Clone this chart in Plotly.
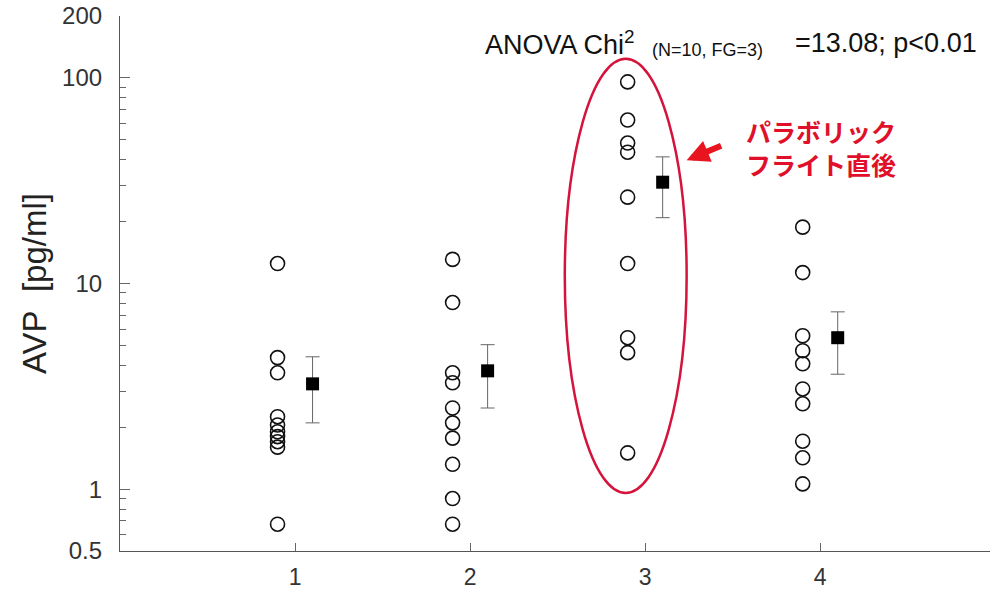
import plotly.graph_objects as go

# ---- data ----
groups = [1, 2, 3, 4]
g1_values = [12.5, 4.36, 3.68, 2.25, 2.05, 1.9, 1.8, 1.7, 1.6, 0.675]
g2_values = [13.1, 8.08, 3.68, 3.29, 2.48, 2.10, 1.77, 1.32, 0.90, 0.675]
g3_values = [95.6, 62.4, 48.2, 43.5, 26.3, 12.5, 5.45, 4.61, 1.50]
g4_values = [18.8, 11.3, 5.57, 4.71, 4.07, 3.07, 2.60, 1.71, 1.42, 1.06]
mean_values = [3.25, 3.76, 31.1, 5.45]
sem_values = [1.15, 1.28, 10.2, 1.83]
x_tick_labels = ["1", "2", "3", "4"]
y_tick_values = [0.5, 1, 10, 100, 200]
y_tick_labels = ["0.5", "1", "10", "100", "200"]

all_groups = [g1_values, g2_values, g3_values, g4_values]
circle_offset = -0.1
mean_offset = 0.1

FONT = "Liberation Sans, Arial, sans-serif"
JP_FONT = "Noto Sans CJK JP, sans-serif"

L, R, T, B = 120, 0, 16, 43
W, H = 990, 594
PW, PH = W - L - R, H - T - B


def px_x(p):
    return (p - L) / PW


def px_y(p):
    return (H - B - p) / PH


fig = go.Figure()

cx, cy = [], []
for g, vals in zip(groups, all_groups):
    cx += [g + circle_offset] * len(vals)
    cy += vals
fig.add_trace(go.Scatter(
    x=cx, y=cy, mode="markers",
    marker=dict(symbol="circle-open", size=14, color="#111", line=dict(width=1.6, color="#111")),
    showlegend=False, hoverinfo="y"))

fig.add_trace(go.Scatter(
    x=[g + mean_offset for g in groups], y=mean_values, mode="markers",
    marker=dict(symbol="square", size=13, color="#000"),
    error_y=dict(type="data", array=sem_values, visible=True, color="#666", thickness=1, width=7),
    showlegend=False))

minor_vals = [0.6, 0.7, 0.8, 0.9] + list(range(2, 10)) + list(range(20, 100, 10))

fig.update_layout(
    width=W, height=H,
    margin=dict(l=L, r=R, t=T, b=B),
    paper_bgcolor="white", plot_bgcolor="white",
    font=dict(family=FONT, color="#222"),
    xaxis=dict(
        range=[0, 4.97], tickvals=groups, ticktext=x_tick_labels,
        ticks="inside", ticklen=8, tickcolor="#666", tickwidth=1,
        showline=True, linecolor="#555", linewidth=1.2,
        showgrid=False, zeroline=False, ticklabelstandoff=5,
        tickfont=dict(size=23, color="#333"),
    ),
    yaxis=dict(
        type="log", range=[-0.30103, 2.30103],
        tickvals=y_tick_values, ticktext=y_tick_labels,
        ticks="inside", ticklen=10, tickcolor="#666", tickwidth=1,
        minor=dict(tickvals=minor_vals, ticks="inside", ticklen=6, tickcolor="#666", tickwidth=1, showgrid=False),
        showline=True, linecolor="#555", linewidth=1.2,
        showgrid=False, zeroline=False, ticklabelstandoff=12,
        tickfont=dict(size=24, color="#333"),
    ),
)

# y-axis title
fig.add_annotation(x=px_x(34), y=px_y(284), xref="paper", yref="paper",
                   xanchor="center", yanchor="middle", textangle=-90, showarrow=False,
                   text="AVP&nbsp;&nbsp;[pg/ml]", font=dict(size=33, color="#222"))

# red ellipse (shape coords on log axis are in data values)
fig.add_shape(type="circle", xref="x", yref="y",
              x0=2.541, x1=3.237, y0=0.957, y1=124,
              line=dict(color="#d4143c", width=2.5))

# arrow
fig.add_annotation(x=3.237, y=1.60, xref="x", yref="y", ax=36, ay=-15,
                   showarrow=True, arrowhead=2, arrowsize=0.75, arrowwidth=6,
                   arrowcolor="#e8141e", text="")

fig.add_annotation(x=px_x(744), y=px_y(147), xref="paper", yref="paper", xanchor="left", yanchor="middle",
                   text="<b>パラボリック<br>フライト直後</b>", showarrow=False, align="left",
                   font=dict(family=JP_FONT, size=25, color="#e0102a"))

# ANOVA text
fig.add_annotation(x=px_x(483), y=px_y(43), xref="paper", yref="paper", xanchor="left", yanchor="middle",
                   text="ANOVA Chi<sup>2</sup>", showarrow=False, font=dict(size=27, color="#111"))
fig.add_annotation(x=px_x(650), y=px_y(50), xref="paper", yref="paper", xanchor="left", yanchor="middle",
                   text="(N=10, FG=3)", showarrow=False, font=dict(size=18, color="#111"))
fig.add_annotation(x=px_x(979), y=px_y(43), xref="paper", yref="paper", xanchor="right", yanchor="middle",
                   text="=13.08; p&lt;0.01", showarrow=False, font=dict(size=27, color="#111"))

fig.write_html("out.html", config={"displayModeBar": False},
               post_script="document.body.style.margin='0';")
